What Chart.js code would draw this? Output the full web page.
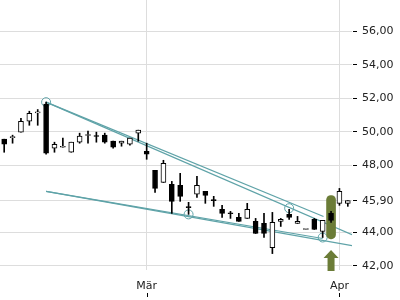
<!DOCTYPE html>
<html>
<head>
<meta charset="utf-8">
<script src="https://cdn.jsdelivr.net/npm/chart.js@4"></script>
<style>
  body { margin: 0; background: #fff; }
</style>
</head>
<body>
<canvas id="chart" width="400" height="300"></canvas>
<script>
// trading days, Feb 6 - Apr 4
const days = ['06.02.','07.02.','08.02.','09.02.','10.02.','13.02.','14.02.','15.02.','16.02.','17.02.',
  '20.02.','21.02.','22.02.','23.02.','24.02.','27.02.','28.02.',
  '01.03.','02.03.','03.03.','06.03.','07.03.','08.03.','09.03.','10.03.','13.03.','14.03.','15.03.',
  '16.03.','17.03.','20.03.','21.03.','22.03.','23.03.','24.03.','27.03.','28.03.','29.03.','30.03.','31.03.',
  '03.04.','04.04.'];
const monthIdx = [17, 40];
const monthText = ['Mär', 'Apr'];

const open  = [49.57,49.66,49.99,50.64,51.14,51.66,49.03,49.09,48.79,49.39,49.79,49.75,49.81,49.45,49.33,49.27,49.93,
  48.85,47.71,46.99,46.87,46.81,45.52,46.28,46.45,45.94,45.38,45.16,44.90,44.84,44.66,44.54,43.10,44.66,45.08,44.54,44.18,44.78,44.06,45.14,
  45.74,45.74];
const high  = [49.57,49.81,50.82,51.24,51.34,51.78,49.39,49.63,49.39,49.93,50.05,49.99,49.93,49.45,49.45,49.63,50.11,
  49.33,47.71,48.31,47.05,47.53,45.80,47.35,46.45,46.16,45.62,45.26,45.14,45.74,44.84,45.14,45.20,44.84,45.38,44.96,44.18,44.84,44.72,45.26,
  46.63,45.90];
const low   = [48.79,49.33,49.99,50.40,50.40,48.67,48.79,49.09,48.79,49.33,49.33,49.39,49.33,49.03,49.15,49.21,49.45,
  48.37,46.39,46.99,45.14,45.86,45.08,46.10,45.74,45.56,44.90,44.84,44.66,44.84,43.94,43.70,42.74,44.36,44.78,44.54,44.18,44.18,43.70,44.60,
  45.62,45.56];
const close = [49.27,49.69,50.64,51.12,51.20,48.73,49.27,49.11,49.39,49.75,49.81,49.73,49.39,49.09,49.45,49.63,50.11,
  48.67,46.63,48.13,45.86,46.16,45.48,46.81,46.22,45.90,45.14,45.12,44.66,45.38,43.94,43.94,44.60,44.78,44.90,44.66,44.20,44.18,44.72,44.72,
  46.45,45.90];

const yTicks = [42, 44, 45.9, 48, 50, 52, 54, 56];

// trend lines (index, price)
const resistA = [{x: 5, y: 51.78}, {x: 41.5, y: 43.87}];
const resistB = [{x: 5, y: 51.78}, {x: 38.1, y: 44.95}];
const supportA = [{x: 5, y: 46.45}, {x: 41.5, y: 43.22}];
const supportB = [{x: 5, y: 46.45}, {x: 38, y: 43.64}];
const touches = [{x: 5, y: 51.78}, {x: 22, y: 45.08}, {x: 34, y: 45.45}, {x: 38, y: 43.70}];

const signalIdx = 39;
const signalRange = [43.62, 46.21];
const arrowTip = 42.95;

const teal = '#5fa3a8';
const olive = '#6b7c37';
const font = {family: 'DejaVu Sans', size: 11};

const bodies = days.map((d, i) => [open[i], close[i]]);
const wicks = days.map((d, i) => [low[i], high[i]]);
const signal = days.map((d, i) => i === signalIdx ? signalRange : null);

const extras = {
  id: 'extras',
  afterDraw(chart) {
    const ctx = chart.ctx;
    const xs = chart.scales.x, ys = chart.scales.y;
    const bottom = chart.chartArea.bottom;
    // small tick marks under the month labels
    ctx.save();
    ctx.strokeStyle = '#000';
    ctx.lineWidth = 1;
    monthIdx.forEach(i => {
      const px = Math.round(xs.getPixelForValue(i)) + 0.5;
      ctx.beginPath();
      ctx.moveTo(px, bottom + 23);
      ctx.lineTo(px, bottom + 27);
      ctx.stroke();
    });
    // up arrow under signal candle
    const ax = xs.getPixelForValue(signalIdx);
    const tip = ys.getPixelForValue(arrowTip);
    ctx.fillStyle = olive;
    ctx.beginPath();
    ctx.moveTo(ax, tip);
    ctx.lineTo(ax + 7.5, tip + 8);
    ctx.lineTo(ax + 3.5, tip + 8);
    ctx.lineTo(ax + 3.5, bottom + 1);
    ctx.lineTo(ax - 3.5, bottom + 1);
    ctx.lineTo(ax - 3.5, tip + 8);
    ctx.lineTo(ax - 7.5, tip + 8);
    ctx.closePath();
    ctx.fill();
    ctx.restore();
  }
};

const lineDs = (data) => ({
  type: 'line', data: data, xAxisID: 'x2', borderColor: teal, borderWidth: 1.2,
  pointRadius: 0, fill: false, tension: 0, order: 5
});

new Chart(document.getElementById('chart'), {
  type: 'bar',
  data: {
    labels: days,
    datasets: [
      {data: bodies, backgroundColor: bodies.map(b => b[1] >= b[0] ? '#fff' : '#000'), borderColor: '#000',
        borderWidth: 1, barThickness: 5, minBarLength: 1, grouped: false, borderSkipped: false, order: 1},
      {data: wicks, backgroundColor: '#000', borderWidth: 0, barThickness: 1, grouped: false, order: 2},
      {data: signal, backgroundColor: olive, borderWidth: 0, barThickness: 9, borderRadius: 5,
        borderSkipped: false, grouped: false, order: 4},
      lineDs(resistA), lineDs(resistB), lineDs(supportA), lineDs(supportB),
      {type: 'scatter', data: touches, xAxisID: 'x2', pointRadius: 4.5, pointBorderWidth: 1,
        pointBackgroundColor: 'rgba(0,0,0,0)', pointBorderColor: teal, order: 5}
    ]
  },
  options: {
    responsive: false,
    animation: false,
    layout: {padding: 0, autoPadding: false},
    plugins: {legend: {display: false}, tooltip: {enabled: false}},
    scales: {
      x: {
        offset: true,
        grid: {offset: false, color: '#dddddd', drawTicks: false},
        border: {display: false},
        ticks: {autoSkip: false, maxRotation: 0, padding: 10, font: font, color: '#222',
          callback: (v) => monthText[monthIdx.indexOf(v)]},
        afterBuildTicks: s => { s.ticks = s.ticks.filter(t => monthIdx.includes(t.value)); },
        afterFit: s => { s.height = 30; s.paddingLeft = 0; s.paddingRight = 0; }
      },
      x2: {type: 'linear', display: false, offset: false, grid: {offset: false}, min: -0.5, max: 41.5},
      y: {
        position: 'right',
        min: 41.76,
        max: 57.88,
        grid: {color: '#dddddd', tickColor: '#000', tickLength: 5, tickBorderDash: [0, 1, 4, 50]},
        border: {display: false},
        ticks: {font: font, color: '#222', padding: 5,
          callback: v => v.toFixed(2).replace('.', ',')},
        afterBuildTicks: s => { s.ticks = yTicks.map(v => ({value: v})); },
        afterFit: s => { s.width = 48; s.paddingTop = 0; s.paddingBottom = 0; }
      }
    }
  },
  plugins: [extras]
});
</script>
</body>
</html>
